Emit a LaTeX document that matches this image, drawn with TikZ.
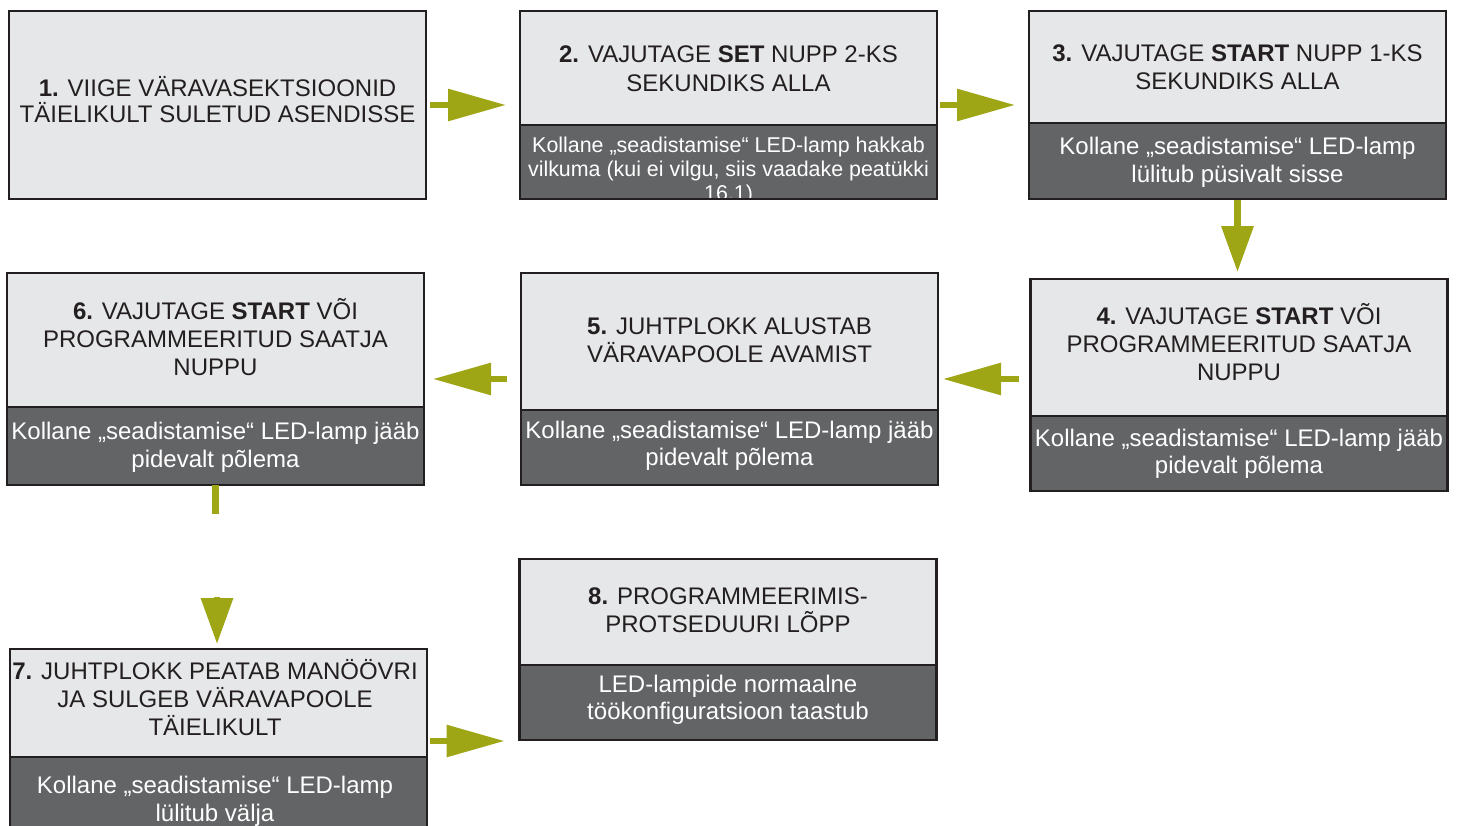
\documentclass[tikz,border=0pt]{standalone}
\usepackage{fontspec}
\setmainfont{Liberation Sans}
\usetikzlibrary{arrows.meta,calc}
\definecolor{lightfill}{RGB}{230,231,232}
\definecolor{darkfill}{RGB}{99,100,102}
\definecolor{edge}{RGB}{35,31,32}
\definecolor{olive}{RGB}{158,166,22}
\tikzset{
  box/.style={draw=edge, line width=2.5pt, fill=lightfill, inner sep=0pt, outer sep=0pt,
    minimum width=417pt,
    path picture={\fill[darkfill] (path picture bounding box.south west) rectangle
      ([yshift=#1]path picture bounding box.south east);
      \draw[edge, line width=1.5pt] ([yshift=#1]path picture bounding box.south west) --
      ([yshift=#1]path picture bounding box.south east);}},
  plainbox/.style={draw=edge, line width=2.5pt, fill=lightfill, inner sep=0pt, outer sep=0pt,
    minimum width=417pt},
  toptext/.style={align=center, text=edge, font=\fontsize{24pt}{28pt}\selectfont, inner sep=0pt},
  bottext/.style={align=center, text=white, font=\fontsize{24pt}{27.5pt}\selectfont, inner sep=0pt},
  hconn/.style={draw=olive, line width=6pt, -{Triangle[length=58pt,width=31pt]}},
  vconn/.style={draw=olive, line width=6.5pt, -{Triangle[length=46pt,width=31pt]}},
  vstub/.style={draw=olive, line width=6.5pt},
}
\begin{document}
\begin{tikzpicture}[x=1pt,y=-1pt]
\useasboundingbox (0,0) rectangle (1457,825);
% boxes
\node[plainbox, minimum height=188pt] (b1) at (217.5,105) {};
\node[box=74pt, minimum height=188pt] (b2) at (728.5,105) {};
\node[box=76pt, minimum height=188pt] (b3) at (1237.5,105) {};
\node[box=75pt, minimum height=212pt] (b4) at (1239,385) {};
\node[box=75pt, minimum height=212pt] (b5) at (729.5,379) {};
\node[box=78pt, minimum height=212pt] (b6) at (215.5,379) {};
\node[box=75pt, minimum height=183pt] (b7) at (218.5,740.5) {};
\node[box=75pt, minimum height=181pt] (b8) at (728,649.5) {};
% texts
\node[toptext, font=\fontsize{24pt}{26pt}\selectfont] (t1) at (217.5,99.5) {\textbf{1.} VIIGE VÄRAVASEKTSIOONID\\TÄIELIKULT SULETUD ASENDISSE};
\node[toptext, font=\fontsize{24pt}{29pt}\selectfont] (t2) at (728.5,69) {\textbf{2.} VAJUTAGE \textbf{SET} NUPP 2-KS\\SEKUNDIKS ALLA};
\begin{scope}
\clip (521,126) rectangle (936,197.8);
\node[bottext, font=\fontsize{21.4pt}{24pt}\selectfont] (s2) at (728.5,171) {Kollane „seadistamise“ LED-lamp hakkab\\vilkuma (kui ei vilgu, siis vaadake peatükki\\16.1)};
\end{scope}
\node[toptext] (t3) at (1237.5,67) {\textbf{3.} VAJUTAGE \textbf{START} NUPP 1-KS\\SEKUNDIKS ALLA};
\node[bottext] (s3) at (1237.5,162.5) {Kollane „seadistamise“ LED-lamp\\lülitub püsivalt sisse};
\node[toptext] (t4) at (1239,342) {\textbf{4.} VAJUTAGE \textbf{START} VÕI\\PROGRAMMEERITUD SAATJA\\NUPPU};
\node[bottext] (s4) at (1239,454) {Kollane „seadistamise“ LED-lamp jääb\\pidevalt põlema};
\node[toptext] (t5) at (729.5,340.5) {\textbf{5.} JUHTPLOKK ALUSTAB\\VÄRAVAPOOLE AVAMIST};
\node[bottext] (s5) at (729.5,446) {Kollane „seadistamise“ LED-lamp jääb\\pidevalt põlema};
\node[toptext] (t6) at (215.5,337) {\textbf{6.} VAJUTAGE \textbf{START} VÕI\\PROGRAMMEERITUD SAATJA\\NUPPU};
\node[bottext] (s6) at (215.5,447.5) {Kollane „seadistamise“ LED-lamp jääb\\pidevalt põlema};
\node[toptext] (t7) at (215,697.5) {\textbf{7.} JUHTPLOKK PEATAB MANÖÖVRI\\JA SULGEB VÄRAVAPOOLE\\TÄIELIKULT};
\node[bottext] (s7) at (215,801.5) {Kollane „seadistamise“ LED-lamp\\lülitub välja};
\node[toptext] (t8) at (728,610.5) {\textbf{8.} PROGRAMMEERIMIS-\\PROTSEDUURI LÕPP};
\node[bottext] (s8) at (728,700) {LED-lampide normaalne\\töökonfiguratsioon taastub};
% connectors
\draw[hconn, shorten <=4pt, shorten >=14pt] (b1.east) -- (b1.east -| b2.west);
\draw[hconn, shorten <=3pt, shorten >=14pt] (b2.east) -- (b2.east -| b3.west);
\draw[vconn, shorten <=1pt, shorten >=7pt] (b3.south) -- (b3.south |- b4.north);
\draw[hconn, shorten <=12pt, shorten >=5pt] (b4.west |- b5.east) -- (b5.east);
\draw[hconn, shorten <=14pt, shorten >=9pt] (b5.west) -- (b5.west -| b6.east);
\draw[vstub] (b6.south) -- ++(0,29) coordinate (g1);
\coordinate (g2) at ($(b7.north)+(-1.5,-52)$);
\draw[vconn, shorten >=5pt] (g2) -- (g2 |- b7.north);
\draw[hconn, shorten <=3pt, shorten >=15pt] ($(b7.east)+(0,0.5)$) -- ($(b7.east -| b8.west)+(0,0.5)$);
\end{tikzpicture}
\end{document}
